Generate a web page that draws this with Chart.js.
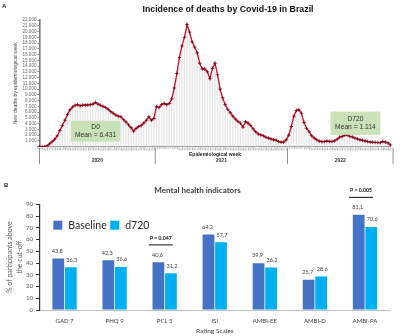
<!DOCTYPE html>
<html><head><meta charset="utf-8">
<script src="https://cdn.jsdelivr.net/npm/chart.js@4.4.0/dist/chart.umd.min.js"></script>
<style>
html,body{margin:0;padding:0;background:#fff;}
#wrap{position:relative;width:400px;height:336px;overflow:hidden;background:#fff;}
#c1{position:absolute;left:0;top:0;width:400px;height:170px;}
#c2{position:absolute;left:0;top:170px;width:400px;height:166px;}
.pl{position:absolute;font:bold 6px 'Liberation Sans',Arial,sans-serif;color:#222;line-height:6px;}
</style></head><body>
<div id="wrap">
<canvas id="c1" width="400" height="170"></canvas>
<canvas id="c2" width="400" height="166"></canvas>
<div class="pl" style="left:2px;top:3px">A</div>
<div class="pl" style="left:4px;top:182px">B</div>
</div>
<script>
// ---------- Panel A data ----------
const years = ['2020', '2021', '2022'];
const weekFirst = [8, 1, 1];
const weekLast = [53, 52, 41];
const deaths2020 = [0, 0, 10, 150, 500, 900, 1300, 1900, 2800, 3700, 4600, 5600, 6400, 6900, 7200, 7300, 7100, 7200, 7250, 7250, 7300, 7400, 7700, 7400, 7200, 7000, 6800, 6500, 6100, 5800, 5500, 5300, 5200, 4700, 4300, 3800, 3300, 2700, 3200, 3500, 3700, 4100, 4600, 5200, 4600, 4900];
const deaths2021 = [7000, 6800, 7300, 7500, 7300, 7500, 8300, 10200, 12700, 15500, 17500, 19000, 21200, 19900, 18200, 17300, 16300, 14500, 13500, 13500, 13000, 11800, 13600, 14500, 12500, 10000, 8500, 7300, 6500, 5900, 5300, 4800, 4400, 4100, 3400, 4350, 4100, 3700, 3100, 2600, 2200, 2050, 1900, 1650, 1500, 1350, 1200, 1150, 900, 780, 800, 1200];
const deaths2022 = [2000, 3500, 5300, 6300, 6400, 5800, 4200, 3200, 2600, 1900, 1500, 1200, 950, 870, 900, 990, 900, 900, 1000, 1300, 1650, 1800, 2000, 2050, 1800, 1700, 1500, 1350, 1200, 1100, 1000, 900, 800, 770, 760, 720, 700, 900, 800, 650, 300];
const periodNames = ['D0', 'D720'];
const periodMeans = ['Mean = 6.431', 'Mean = 1.114'];

// ---------- Panel B data ----------
const ratingScales = ['GAD 7', 'PHQ 9', 'PCL 5', 'ISI', 'AMBI-EE', 'AMBI-D', 'AMBI-PA'];
const baseline = [43.8, 42.3, 40.6, 64.2, 39.9, 25.7, 81.1];
const d720 = [36.3, 36.6, 31.2, 57.7, 36.2, 28.6, 70.6];
const pValues = [null, null, 'P = 0.047', null, null, null, 'P = 0.005'];

const weekLabels = [];
const yearIndexRanges = [];
years.forEach((y, k) => {
  const start = weekLabels.length;
  for (let w = weekFirst[k]; w <= weekLast[k]; w++) weekLabels.push(String(w));
  yearIndexRanges.push([start, weekLabels.length - 1]);
});
const deaths = deaths2020.concat(deaths2021, deaths2022);

const SANS = "'Liberation Sans', Arial, sans-serif";
const CAL = "Lato, 'Open Sans', sans-serif";

const boxes = [
  {lines: [periodNames[0], periodMeans[0]], from: 12.4, to: 31.7, low: 900, high: 4500},
  {lines: [periodNames[1], periodMeans[1]], from: 114.4, to: 134, low: 2050, high: 6100}
];

const topDecor = {
  id: 'topDecor',
  afterDraw(chart) {
    const ctx = chart.ctx, xs = chart.scales.x, ys = chart.scales.y, ca = chart.chartArea;
    ctx.save();
    ctx.fillStyle = '#111';
    ctx.font = 'bold 8.8px ' + SANS;
    ctx.textAlign = 'center';
    ctx.textBaseline = 'middle';
    ctx.fillText('Incidence of deaths by Covid-19 in Brazil', 228, 9.5);
    boxes.forEach(b => {
      const x0 = xs.getPixelForValue(b.from), x1 = xs.getPixelForValue(b.to);
      const y0 = ys.getPixelForValue(b.high), y1 = ys.getPixelForValue(b.low);
      ctx.fillStyle = 'rgba(196,223,178,0.92)';
      ctx.fillRect(x0, y0, x1 - x0, y1 - y0);
      ctx.fillStyle = '#333';
      ctx.font = '6.7px ' + SANS;
      const cx = (x0 + x1) / 2, cy = (y0 + y1) / 2;
      ctx.fillText(b.lines[0], cx, cy - 4.3);
      ctx.fillText(b.lines[1], cx, cy + 4.3);
    });
    ctx.strokeStyle = '#777';
    ctx.lineWidth = 0.8;
    const seps = [];
    yearIndexRanges.forEach(([a, b], k) => {
      const xa = xs.getPixelForValue(a === 0 ? 0 : a - 0.5);
      const xb = xs.getPixelForValue(b === deaths.length - 1 ? b + 1 : b + 0.5);
      seps.push(xa);
      if (k === yearIndexRanges.length - 1) seps.push(xb);
      ctx.fillStyle = '#333';
      ctx.font = 'bold 5px ' + SANS;
      ctx.fillText(years[k], (xa + xb) / 2, ca.bottom + 13.5);
    });
    seps.forEach(x => {
      ctx.beginPath();
      ctx.moveTo(x, ca.bottom + 1);
      ctx.lineTo(x, ca.bottom + 17.5);
      ctx.stroke();
    });
    ctx.font = 'bold 5px ' + SANS;
    ctx.fillStyle = '#222';
    ctx.fillText('Epidemiological week', (ca.left + ca.right) / 2, ca.bottom + 7.8);
    ctx.restore();
  }
};

new Chart(document.getElementById('c1'), {
  type: 'line',
  data: {
    labels: weekLabels,
    datasets: [
      {type: 'line', data: deaths, borderColor: '#c8102e', borderWidth: 1.3, pointStyle: 'cross',
       pointRadius: 1.8, pointBorderColor: '#7a0012', pointBorderWidth: 0.8, tension: 0, order: 0},
      {type: 'bar', data: deaths, backgroundColor: '#e8e8e8', barThickness: 0.8, order: 1}
    ]
  },
  options: {
    responsive: false, animation: false, events: [],
    layout: {padding: {top: 20, right: 9.5, bottom: 0, left: 0}},
    plugins: {legend: {display: false}, tooltip: {enabled: false}},
    scales: {
      x: {
        offset: false,
        grid: {display: false, drawTicks: false},
        border: {color: '#8c8c8c', width: 1},
        ticks: {autoSkip: false, minRotation: 90, maxRotation: 90, font: {size: 2.8, family: SANS}, color: '#9a9a9a', padding: 0.8},
        afterFit(s) { s.height = 23.3; }
      },
      y: {
        min: 0, max: 22000,
        ticks: {stepSize: 1000, autoSkip: false, font: {size: 4.6, family: SANS}, color: '#666', padding: 1,
                callback: v => v === 0 ? '' : (v / 1000) + '.000'},
        grid: {drawOnChartArea: false, tickLength: 2, color: '#888'},
        border: {color: '#7a7a7a', width: 1.6},
        title: {display: true, text: 'New deaths by epidemiological week', font: {size: 5, family: SANS},
                color: '#444', padding: {top: 12.5, bottom: 0}},
        afterFit(s) { s.width = 39.5; }
      }
    }
  },
  plugins: [topDecor]
});

const fmt = v => v.toFixed(1).replace('.', ',');

const bottomDecor = {
  id: 'bottomDecor',
  afterDraw(chart) {
    const ctx = chart.ctx, xs = chart.scales.x, ys = chart.scales.y, ca = chart.chartArea;
    ctx.save();
    ctx.textAlign = 'center';
    ctx.textBaseline = 'middle';
    ctx.fillStyle = '#404040';
    ctx.font = 'bold 8px ' + CAL;
    ctx.fillText('Mental health indicators', 197.5, 20);
    ctx.font = '5.6px ' + CAL;
    ctx.fillStyle = '#404040';
    chart.data.datasets.forEach((ds, di) => {
      chart.getDatasetMeta(di).data.forEach((bar, i) => {
        ctx.fillText(fmt(ds.data[i]), bar.x + (di === 0 ? -1 : 1), bar.y - 7.5);
      });
    });
    pValues.forEach((p, i) => {
      if (!p) return;
      const m0 = chart.getDatasetMeta(0).data[i], m1 = chart.getDatasetMeta(1).data[i];
      const top = Math.min(m0.y, m1.y);
      const cx = xs.getPixelForValue(i) - 4;
      ctx.font = 'bold 5.2px ' + CAL;
      ctx.fillStyle = '#111';
      ctx.fillText(p, cx, top - 24);
      const w = ctx.measureText(p).width + 2;
      ctx.strokeStyle = '#111';
      ctx.lineWidth = 1;
      ctx.beginPath();
      ctx.moveTo(cx - w / 2, top - 17.4);
      ctx.lineTo(cx + w / 2, top - 17.4);
      ctx.stroke();
    });
    ctx.textAlign = 'left';
    ctx.font = '10.5px ' + CAL;
    let lx = 53.3;
    chart.data.datasets.forEach((ds) => {
      ctx.fillStyle = ds.backgroundColor;
      ctx.fillRect(lx, 50.7, 9, 9);
      ctx.fillStyle = '#262626';
      ctx.fillText(ds.label, lx + 15, 55.3);
      lx += 15 + ctx.measureText(ds.label).width + 3.5;
    });
    ctx.restore();
  }
};

new Chart(document.getElementById('c2'), {
  type: 'bar',
  data: {
    labels: ratingScales,
    datasets: [
      {label: 'Baseline', data: baseline, backgroundColor: '#4472c4', categoryPercentage: 0.5, barPercentage: 0.94},
      {label: 'd720', data: d720, backgroundColor: '#00b0f0', categoryPercentage: 0.5, barPercentage: 0.94}
    ]
  },
  options: {
    responsive: false, animation: false, events: [],
    layout: {padding: {top: 34.3, right: 10, bottom: 0, left: 0}},
    plugins: {legend: {display: false}, tooltip: {enabled: false}},
    scales: {
      x: {
        grid: {display: false, drawTicks: false},
        border: {color: '#bfbfbf', width: 1},
        ticks: {font: {size: 6, family: CAL}, color: '#404040', padding: 7},
        title: {display: true, text: 'Rating Scales', font: {size: 6.5, family: CAL}, color: '#404040', padding: {top: 0, bottom: 1.4}},
        afterFit(s) { s.height = 26; }
      },
      y: {
        min: 0, max: 90,
        ticks: {stepSize: 10, font: {size: 6, family: CAL}, color: '#595959', padding: 3},
        grid: {drawOnChartArea: false, tickLength: 3.5, color: '#333'},
        border: {color: '#333', width: 1.2},
        title: {display: true, text: ['% of participants above', 'the cut-off'], font: {size: 7, family: CAL, lineHeight: 1.4},
                color: '#595959', padding: {top: 5, bottom: 0}},
        afterFit(s) { s.width = 39.5; }
      }
    }
  },
  plugins: [bottomDecor]
});
</script>
</body></html>
